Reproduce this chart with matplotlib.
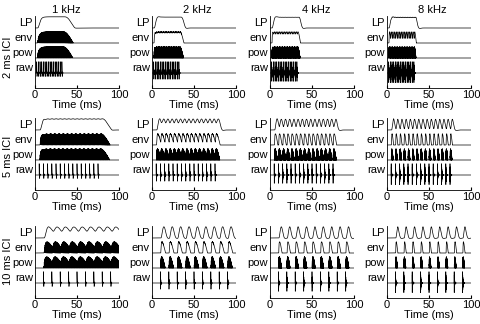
import numpy as np
import matplotlib
matplotlib.use('Agg')
import matplotlib.pyplot as plt

plt.rcParams['font.family'] = ['Liberation Sans', 'DejaVu Sans']
plt.rcParams['font.size'] = 8

# stimulus / panel layout values
cf_khz = [1, 2, 4, 8]
ici_ms = [2, 5, 10]
first_click_ms = [2, 5, 10]
n_clicks = [16, 15, 9]
col_titles = ['1 kHz', '2 kHz', '4 kHz', '8 kHz']
row_titles = ['2 ms ICI', '5 ms ICI', '10 ms ICI']
trace_labels = ['LP', 'env', 'pow', 'raw']
xticks = [0, 50, 100]
# time of the peak of one click's filtered response, per CF (ms)
peak_ms = [4.0, 1.6, 1.1, 0.7]

# processing settings
fs = 100.0          # samples per ms
raw_tau = 0.4       # ms, ringing of raw trace
db_range = 35.0     # dB shown on pow trace
env_fc, env_order = 2.5, 8   # kHz
lp_fc, lp_order = 0.15, 2    # kHz

t = np.arange(0, 100 + 0.5 / fs, 1 / fs)


def butter(x, fc, n):
    # causal Butterworth low-pass applied in the frequency domain
    N = 2 * len(x)
    X = np.fft.rfft(x, N)
    s = 1j * np.fft.rfftfreq(N, 1 / fs) / fc
    h = np.ones(len(s), complex)
    for k in range(1, n + 1):
        p = np.exp(1j * np.pi * (2 * k + n - 1) / (2 * n))
        h *= -p / (s - p)
    return np.fft.irfft(X * h, N)[:len(x)]


def traces(f, ici, t0, n, tp):
    clicks = t0 + ici * np.arange(n)
    z = np.zeros(len(t), complex)
    raw = np.zeros(len(t))
    for c in clicks:
        dt = t - c
        m = dt >= 0
        x = dt[m] / tp
        z[m] += x ** 3 * np.exp(-3 * (x - 1)) * np.exp(2j * np.pi * f * dt[m])
        raw[m] += np.exp(-dt[m] / raw_tau) * np.cos(2 * np.pi * f * dt[m])
    a = np.abs(z)
    e = (20 * np.log10(a / a.max() + 1e-12) + db_range) / db_range
    e = np.clip(e, 0, 1)
    carrier = np.where(a > 0, z.real / np.maximum(a, 1e-30), 0)
    pw = e * carrier ** 2
    env = butter(pw, env_fc, env_order)
    lp = butter(env, lp_fc, lp_order)
    out = []
    for s in [lp, env, pw]:
        out.append(s / s.max())
    out.append(raw / np.abs(raw).max())
    return out


fig = plt.figure(figsize=(4.8, 3.24), dpi=100)
W, H = 480.0, 324.0
lefts = [35, 152, 270, 387]
bottoms = [88, 190, 298]
aw, ah = 84, 72
title_x = [66, 197, 316, 432]
row_y = [57, 156, 261]

for i in range(3):
    for j in range(4):
        ax = fig.add_axes([lefts[j] / W, 1 - bottoms[i] / H, aw / W, ah / H])
        tr = traces(cf_khz[j], ici_ms[i], first_click_ms[i], n_clicks[i], peak_ms[j])
        base = [4, 3, 2, 1]
        for k in range(4):
            ax.plot(t, base[k] + 0.75 * tr[k], color='k', lw=0.5)
        ax.set_xlim(0, 100)
        ax.set_ylim(0, 4.8)
        ax.set_xticks(xticks)
        ax.set_yticks([b + 0.4 for b in base])
        ax.set_yticklabels(trace_labels)
        ax.tick_params(axis='y', length=0, pad=1.5)
        ax.tick_params(axis='x', direction='in', length=2, pad=1.5)
        ax.spines['top'].set_visible(False)
        ax.spines['right'].set_visible(False)
        for s in ['left', 'bottom']:
            ax.spines[s].set_linewidth(0.6)
        ax.set_xlabel('Time (ms)', labelpad=0)

for j in range(4):
    fig.text(title_x[j] / W, 1 - 10 / H, col_titles[j], ha='center', va='center')
for i in range(3):
    fig.text(8 / W, 1 - row_y[i] / H, row_titles[i], ha='center', va='center', rotation=90)

fig.savefig('out.png', dpi=100)
